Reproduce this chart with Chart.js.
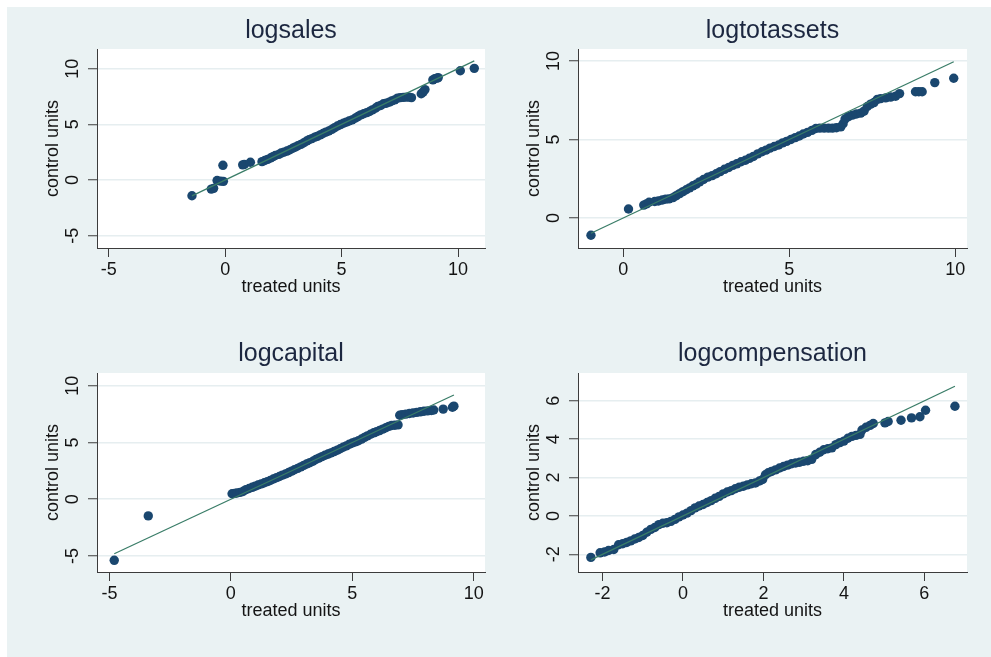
<!DOCTYPE html>
<html>
<head>
<meta charset="utf-8">
<script src="https://cdn.jsdelivr.net/npm/chart.js@4.4.1/dist/chart.umd.min.js"></script>
<style>
  body { margin: 0; background: #ffffff; }
  #wrap { position: relative; width: 991px; height: 657px; overflow: hidden; }
  #bg { position: absolute; left: 7px; top: 7px; width: 984px; height: 650px; background: #eaf2f3; }
  canvas { position: absolute; }
</style>
</head>
<body>
<div id="wrap">
  <div id="bg"></div>
  <canvas id="c1" width="488" height="318" style="left:7px;top:7px"></canvas>
  <canvas id="c2" width="488" height="318" style="left:495px;top:7px"></canvas>
  <canvas id="c3" width="488" height="320" style="left:7px;top:330px"></canvas>
  <canvas id="c4" width="488" height="320" style="left:495px;top:330px"></canvas>
</div>
<script>
// quantiles: treated units (x) vs control units (y)
var salesTreated = [-1.43, -0.6, -0.5, -0.35, -0.2, -0.08, -0.1, 0.75, 0.82, 1.08,
  1.58, 1.7, 1.82, 1.95, 2.05, 2.15, 2.3, 2.4, 2.52, 2.65, 2.78, 2.9, 3.0, 3.12, 3.25, 3.38,
  3.5, 3.6, 3.72, 3.85, 3.95, 4.08, 4.2, 4.32, 4.45, 4.58, 4.7, 4.82, 4.95, 5.08, 5.2, 5.32,
  5.45, 5.58, 5.7, 5.82, 5.95, 6.08, 6.2, 6.32, 6.45, 6.55, 6.68, 6.8, 6.92, 7.05, 7.15, 7.28,
  7.4, 7.52, 7.65, 7.78, 7.9, 8.0, 8.42, 8.5, 8.58, 8.92, 9.0, 9.1, 9.15, 10.1, 10.7];
var salesControl = [-1.42, -0.82, -0.75, -0.05, -0.1, -0.12, 1.32, 1.36, 1.4, 1.59,
  1.65, 1.75, 1.85, 1.98, 2.1, 2.2, 2.3, 2.42, 2.5, 2.6, 2.72, 2.85, 2.95, 3.08, 3.2, 3.35,
  3.5, 3.62, 3.72, 3.85, 3.92, 4.05, 4.18, 4.3, 4.4, 4.55, 4.7, 4.85, 4.98, 5.1, 5.2, 5.3,
  5.4, 5.55, 5.7, 5.85, 5.95, 6.05, 6.15, 6.3, 6.45, 6.6, 6.7, 6.85, 6.9, 7.0, 7.1, 7.2,
  7.35, 7.4, 7.42, 7.45, 7.45, 7.4, 7.75, 7.9, 8.12, 9.0, 9.1, 9.15, 9.2, 9.82, 10.03];

var assetsTreated = [-0.97, 0.16, 0.62, 0.7, 0.78, 0.95, 1.06, 1.18, 1.28, 1.38, 1.5, 1.6,
  1.7, 1.8, 1.9, 2.0, 2.1, 2.2, 2.3, 2.42, 2.55, 2.68, 2.8, 2.92, 3.05, 3.18, 3.3, 3.42, 3.55,
  3.68, 3.8, 3.92, 4.05, 4.18, 4.3, 4.42, 4.55, 4.68, 4.8, 4.92, 5.05, 5.18, 5.3, 5.42, 5.55,
  5.68, 5.8, 5.92, 6.05, 6.18, 6.3, 6.42, 6.55, 6.62, 6.68, 6.78, 6.9, 7.02, 7.15, 7.25, 7.35,
  7.45, 7.55, 7.65, 7.75, 7.9, 8.05, 8.2, 8.32, 8.8, 8.9, 9.0, 9.38, 9.95];
var assetsControl = [-1.1, 0.57, 0.82, 0.9, 1.0, 1.05, 1.08, 1.15, 1.2, 1.22, 1.3, 1.42,
  1.55, 1.68, 1.8, 1.92, 2.05, 2.15, 2.3, 2.45, 2.6, 2.7, 2.82, 2.95, 3.1, 3.22, 3.35, 3.45, 3.58,
  3.68, 3.8, 3.92, 4.08, 4.22, 4.32, 4.45, 4.55, 4.65, 4.78, 4.88, 5.0, 5.12, 5.22, 5.35, 5.45,
  5.58, 5.7, 5.72, 5.72, 5.72, 5.72, 5.75, 5.8, 6.0, 6.3, 6.45, 6.55, 6.62, 6.68, 6.8, 7.1,
  7.25, 7.35, 7.55, 7.6, 7.65, 7.7, 7.75, 7.92, 8.04, 8.04, 8.04, 8.62, 8.9];

var capitalTreated = [-4.8, -3.4, 0.05, 0.15, 0.25, 0.38, 0.5, 0.62, 0.75, 0.88, 1.0, 1.12,
  1.25, 1.38, 1.5, 1.62, 1.75, 1.88, 2.0, 2.12, 2.25, 2.38, 2.5, 2.62, 2.75, 2.88, 3.0, 3.12,
  3.25, 3.38, 3.5, 3.62, 3.75, 3.88, 4.0, 4.12, 4.25, 4.38, 4.5, 4.62, 4.75, 4.88, 5.0, 5.12,
  5.25, 5.38, 5.5, 5.62, 5.75, 5.88, 6.0, 6.12, 6.25, 6.38, 6.5, 6.62, 6.75, 6.88, 6.95, 7.05,
  7.2, 7.35, 7.5, 7.65, 7.8, 7.95, 8.1, 8.25, 8.35, 8.74, 9.12, 9.18];
var capitalControl = [-5.38, -1.47, 0.48, 0.52, 0.55, 0.6, 0.68, 0.85, 0.95, 1.05, 1.15, 1.25,
  1.35, 1.45, 1.55, 1.65, 1.78, 1.9, 2.0, 2.12, 2.22, 2.35, 2.48, 2.6, 2.72, 2.85, 2.98, 3.1,
  3.22, 3.35, 3.5, 3.62, 3.75, 3.88, 3.98, 4.08, 4.2, 4.32, 4.45, 4.58, 4.7, 4.85, 4.95, 5.05,
  5.15, 5.3, 5.45, 5.58, 5.72, 5.85, 5.95, 6.05, 6.18, 6.3, 6.42, 6.5, 6.52, 6.55, 7.4, 7.45,
  7.5, 7.55, 7.6, 7.65, 7.7, 7.75, 7.78, 7.82, 7.86, 7.94, 8.1, 8.2];

var compTreated = [-2.29, -2.06, -1.95, -1.85, -1.72, -1.6, -1.5, -1.4, -1.3, -1.2, -1.1, -1.0,
  -0.9, -0.8, -0.7, -0.6, -0.5, -0.4, -0.3, -0.2, -0.1, 0.0, 0.1, 0.2, 0.3, 0.4, 0.5, 0.6, 0.7,
  0.8, 0.9, 1.0, 1.1, 1.2, 1.3, 1.4, 1.5, 1.6, 1.7, 1.8, 1.9, 1.98, 2.05, 2.12, 2.2, 2.3, 2.4,
  2.5, 2.6, 2.7, 2.8, 2.9, 3.0, 3.1, 3.2, 3.3, 3.4, 3.5, 3.6, 3.7, 3.8, 3.9, 4.0, 4.1, 4.2,
  4.3, 4.4, 4.45, 4.55, 4.65, 4.73, 5.02, 5.1, 5.42, 5.68, 5.89, 6.03, 6.76];
var compControl = [-2.16, -1.92, -1.88, -1.8, -1.75, -1.5, -1.45, -1.38, -1.3, -1.2, -1.12, -1.02,
  -0.85, -0.7, -0.6, -0.45, -0.38, -0.35, -0.28, -0.18, -0.05, 0.05, 0.15, 0.28, 0.42, 0.52, 0.6,
  0.7, 0.8, 0.92, 1.02, 1.15, 1.25, 1.32, 1.42, 1.5, 1.55, 1.62, 1.68, 1.72, 1.82, 1.9, 2.15,
  2.25, 2.32, 2.4, 2.5, 2.58, 2.65, 2.72, 2.76, 2.8, 2.85, 2.88, 2.95, 3.2, 3.32, 3.45, 3.5,
  3.55, 3.72, 3.82, 3.9, 4.05, 4.15, 4.2, 4.25, 4.48, 4.62, 4.72, 4.82, 4.85, 4.92, 4.99, 5.11,
  5.17, 5.51, 5.72];

var ticks10 = [-5, 0, 5, 10];
var ticks10pos = [0, 5, 10];
var ticks2 = [-2, 0, 2, 4, 6];

var fontFamily = "'Liberation Sans', Arial, sans-serif";
var dotColor = '#1a476f';
var refColor = '#3a7d68';
var axisColor = '#3c3c3c';
var gridColor = '#e6eef0';
var textColor = '#141414';

var plotBg = {
    id: 'plotBg',
    beforeDraw: function (chart) {
        var a = chart.chartArea;
        chart.ctx.save();
        chart.ctx.fillStyle = '#ffffff';
        chart.ctx.fillRect(a.left, a.top, a.right - a.left, a.bottom - a.top);
        chart.ctx.restore();
    }
};

function qqPanel(id, title, treated, control, xTicks, yTicks, xRange, yRange, box) {
    var pts = treated.map(function (t, i) { return { x: t, y: control[i] }; });
    var lo = Math.min.apply(null, treated);
    var hi = Math.max.apply(null, treated);
    new Chart(document.getElementById(id), {
        type: 'scatter',
        data: {
            datasets: [
                {
                    type: 'line',
                    data: [{ x: lo, y: lo }, { x: hi, y: hi }],
                    borderColor: refColor,
                    borderWidth: 1.3,
                    pointRadius: 0,
                    fill: false
                },
                {
                    data: pts,
                    backgroundColor: dotColor,
                    borderColor: dotColor,
                    borderWidth: 0,
                    pointRadius: 4.7
                }
            ]
        },
        options: {
            responsive: false,
            animation: false,
            devicePixelRatio: 1,
            layout: { padding: { left: box.left, right: box.right, top: 0, bottom: box.bottom } },
            plugins: {
                legend: { display: false },
                tooltip: { enabled: false },
                title: {
                    display: true,
                    text: title,
                    fullSize: false,
                    color: '#1c2740',
                    font: { family: fontFamily, size: 25, weight: 'normal' },
                    padding: { top: 9, bottom: box.titleGap }
                }
            },
            scales: {
                x: {
                    type: 'linear',
                    min: xRange[0],
                    max: xRange[1],
                    afterBuildTicks: function (s) { s.ticks = xTicks.map(function (v) { return { value: v }; }); },
                    afterFit: function (s) { s.height = 50; },
                    grid: { drawOnChartArea: false, drawTicks: true, tickLength: 9, tickColor: axisColor, tickWidth: 1 },
                    border: { display: true, color: axisColor, width: 1 },
                    ticks: { color: textColor, font: { family: fontFamily, size: 18 }, padding: 2, minRotation: 0, maxRotation: 0 },
                    title: { display: true, text: 'treated units', color: textColor, font: { family: fontFamily, size: 18 }, padding: { top: 0, bottom: 0 } }
                },
                y: {
                    type: 'linear',
                    min: yRange[0],
                    max: yRange[1],
                    afterBuildTicks: function (s) { s.ticks = yTicks.map(function (v) { return { value: v }; }); },
                    afterFit: function (s) { s.width = 56; },
                    grid: { color: gridColor, lineWidth: 1.5, drawTicks: true, tickLength: 9, tickColor: axisColor, tickWidth: 1 },
                    border: { display: true, color: axisColor, width: 1 },
                    ticks: { color: textColor, font: { family: fontFamily, size: 18 }, padding: box.tickPad, minRotation: 90, maxRotation: 90, crossAlign: 'center' },
                    title: { display: true, text: 'control units', color: textColor, font: { family: fontFamily, size: 18 }, padding: { top: 1, bottom: 0 } }
                }
            }
        },
        plugins: [plotBg]
    });
}

qqPanel('c1', 'logsales', salesTreated, salesControl, ticks10, ticks10, [-5.51, 11.16], [-6.11, 11.77],
    { left: 34, right: 10, bottom: 27, titleGap: 3, tickPad: 5 });
qqPanel('c2', 'logtotassets', assetsTreated, assetsControl, ticks10pos, ticks10pos, [-1.36, 10.35], [-1.91, 10.76],
    { left: 27, right: 16, bottom: 27, titleGap: 3, tickPad: 5 });
qqPanel('c3', 'logcapital', capitalTreated, capitalControl, ticks10, ticks10, [-5.51, 10.46], [-6.41, 11.12],
    { left: 34, right: 10, bottom: 28, titleGap: 4, tickPad: 5 });
qqPanel('c4', 'logcompensation', compTreated, compControl, ticks2, ticks2, [-2.61, 7.06], [-2.92, 7.45],
    { left: 27, right: 16, bottom: 28, titleGap: 4, tickPad: 7 });
</script>
</body>
</html>
